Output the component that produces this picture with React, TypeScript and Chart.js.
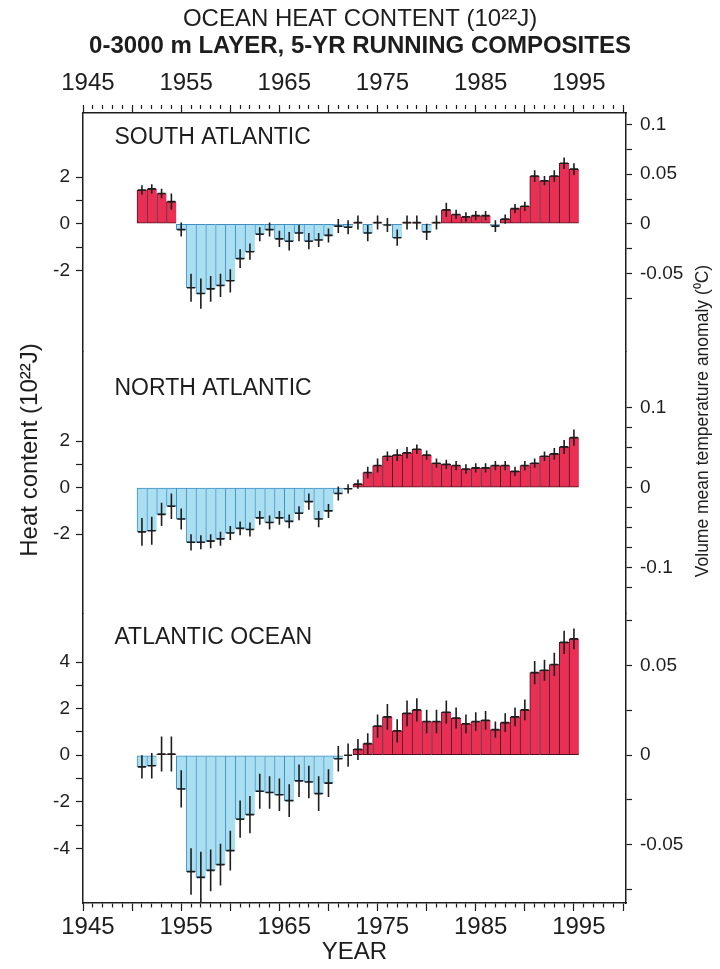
import React, { useEffect, useRef } from "react";
import { Chart, registerables } from "chart.js";

Chart.register(...registerables);

// ---------------- data ----------------
const years = [
  1950, 1951, 1952, 1953, 1954, 1955, 1956, 1957, 1958, 1959,
  1960, 1961, 1962, 1963, 1964, 1965, 1966, 1967, 1968, 1969,
  1970, 1971, 1972, 1973, 1974, 1975, 1976, 1977, 1978, 1979,
  1980, 1981, 1982, 1983, 1984, 1985, 1986, 1987, 1988, 1989,
  1990, 1991, 1992, 1993, 1994,
];

const southAtlantic = [
  1.45, 1.5, 1.3, 0.95, -0.25, -2.75, -3.0, -2.8, -2.65, -2.45,
  -1.5, -1.2, -0.45, -0.25, -0.65, -0.75, -0.4, -0.75, -0.7, -0.5,
  -0.1, -0.15, 0.05, -0.4, 0.05, -0.05, -0.6, 0.05, 0.05, -0.35,
  0.05, 0.6, 0.4, 0.3, 0.35, 0.35, -0.1, 0.2, 0.65, 0.75,
  2.05, 1.85, 2.05, 2.6, 2.35,
];
const southAtlanticErr = [
  0.2, 0.2, 0.2, 0.35, 0.3, 0.6, 0.65, 0.55, 0.5, 0.5,
  0.4, 0.35, 0.3, 0.3, 0.35, 0.4, 0.35, 0.35, 0.3, 0.3,
  0.3, 0.3, 0.3, 0.35, 0.3, 0.3, 0.35, 0.3, 0.3, 0.35,
  0.3, 0.3, 0.2, 0.2, 0.2, 0.2, 0.25, 0.2, 0.2, 0.2,
  0.25, 0.2, 0.25, 0.25, 0.25,
];

const northAtlantic = [
  -1.9, -1.85, -1.15, -0.8, -1.35, -2.35, -2.35, -2.3, -2.2, -1.95,
  -1.75, -1.8, -1.3, -1.5, -1.3, -1.45, -1.1, -0.6, -1.35, -1.0,
  -0.25, -0.05, 0.15, 0.65, 0.95, 1.35, 1.4, 1.5, 1.65, 1.4,
  1.05, 1.0, 0.95, 0.8, 0.85, 0.85, 0.95, 0.95, 0.7, 0.95,
  1.05, 1.35, 1.45, 1.75, 2.15,
];
const northAtlanticErr = [
  0.6, 0.6, 0.5, 0.55, 0.45, 0.35, 0.3, 0.3, 0.3, 0.3,
  0.3, 0.3, 0.3, 0.3, 0.3, 0.3, 0.3, 0.35, 0.35, 0.3,
  0.3, 0.2, 0.2, 0.25, 0.3, 0.2, 0.25, 0.25, 0.2, 0.2,
  0.2, 0.2, 0.2, 0.2, 0.2, 0.2, 0.2, 0.2, 0.2, 0.2,
  0.2, 0.2, 0.25, 0.3, 0.35,
];

const atlanticOcean = [
  -0.5, -0.45, 0.05, 0.05, -1.45, -5.0, -5.25, -4.95, -4.7, -4.1,
  -2.75, -2.55, -1.55, -1.6, -1.7, -1.95, -1.1, -1.15, -1.65, -1.2,
  -0.15, 0.0, 0.25, 0.5, 1.25, 1.65, 1.05, 1.8, 1.95, 1.45,
  1.45, 1.85, 1.6, 1.35, 1.45, 1.5, 1.1, 1.4, 1.65, 1.95,
  3.55, 3.65, 3.9, 4.85, 5.0,
];
const atlanticOceanErr = [
  0.5, 0.55, 0.75, 0.75, 0.8, 1.0, 1.1, 0.9, 0.9, 0.85,
  0.8, 0.8, 0.75, 0.7, 0.7, 0.7, 0.7, 0.7, 0.75, 0.6,
  0.55, 0.5, 0.45, 0.45, 0.5, 0.55, 0.5, 0.55, 0.5, 0.5,
  0.5, 0.5, 0.45, 0.4, 0.4, 0.4, 0.35, 0.4, 0.4, 0.45,
  0.5, 0.45, 0.5, 0.5, 0.45,
];

const panelNames = ["SOUTH ATLANTIC", "NORTH ATLANTIC", "ATLANTIC OCEAN"];

const yearLabels = [1945, 1955, 1965, 1975, 1985, 1995];

const heatTicksSA = [-2, -1, 0, 1, 2];
const heatLabelsSA = [-2, 0, 2];
const heatTicksNA = [-2, -1, 0, 1, 2];
const heatLabelsNA = [-2, 0, 2];
const heatTicksAO = [-4, -3, -2, -1, 0, 1, 2, 3, 4];
const heatLabelsAO = [-4, -2, 0, 2, 4];

const tempTicksSA = [0.1, 0.075, 0.05, 0.025, 0, -0.025, -0.05, -0.075];
const tempLabelsSA = [0.1, 0.05, 0, -0.05];
const tempTicksNA = [0.1, 0.075, 0.05, 0.025, 0, -0.025, -0.05, -0.075, -0.1, -0.125];
const tempLabelsNA = [0.1, 0, -0.1];
const tempTicksAO = [0.075, 0.05, 0.025, 0, -0.025, -0.05, -0.075];
const tempLabelsAO = [0.05, 0, -0.05];

const titleLine1 = "OCEAN HEAT CONTENT (10²²J)";
const titleLine2 = "0-3000 m LAYER, 5-YR RUNNING COMPOSITES";
const xTitle = "YEAR";
const leftTitle = "Heat content (10²²J)";
const rightTitle = "Volume mean temperature anomaly (⁰C)";

// ---------------- layout / style ----------------
const FONT = "'Liberation Sans', Arial, Helvetica, sans-serif";
const INK = "#1d1d1d";
const RED = "#ea2f55";
const RED_EDGE = "#4a1220";
const BLUE = "#a9dff1";
const BLUE_EDGE = "#3f8ec4";
const X_MIN = 1945;
const X_MAX = 1999.3;

// heat-unit extents of each stacked panel and °C per heat unit of the right axis
const panelLayout = [
  { min: -5.5, max: 4.76, kPerUnit: 0.0235, titleLevel: 3.7 },
  { min: -5.4, max: 5.84, kPerUnit: 0.029, titleLevel: 4.25 },
  { min: -6.35, max: 6.1, kPerUnit: 0.013, titleLevel: 5.06 },
];

const sideTitles = {
  left: { x: 30, y: 450, size: 24 },
  right: { x: 703, y: 421, size: 17.5 },
};

const panels = [
  { values: southAtlantic, errors: southAtlanticErr, heatTicks: heatTicksSA, heatLabels: heatLabelsSA, tempTicks: tempTicksSA, tempLabels: tempLabelsSA },
  { values: northAtlantic, errors: northAtlanticErr, heatTicks: heatTicksNA, heatLabels: heatLabelsNA, tempTicks: tempTicksNA, tempLabels: tempLabelsNA },
  { values: atlanticOcean, errors: atlanticOceanErr, heatTicks: heatTicksAO, heatLabels: heatLabelsAO, tempTicks: tempTicksAO, tempLabels: tempLabelsAO },
];

const minorDash = (c: any) => {
  const v = c && c.tick ? c.tick.value : 0;
  return Math.abs(v % 5) > 1e-6 ? [4, 40] : [];
};

function yearAxis(position: "top" | "bottom") {
  return {
    type: "linear",
    axis: "x",
    position,
    min: X_MIN,
    max: X_MAX,
    bounds: "data",
    afterBuildTicks: (s: any) => {
      const t: any[] = [];
      for (let v = yearLabels[0]; v <= yearLabels[yearLabels.length - 1] + 4; v++) t.push({ value: v });
      s.ticks = t;
    },
    afterFit: (s: any) => {
      s.height = position === "top" ? 54 : 66;
    },
    ticks: {
      autoSkip: false,
      maxRotation: 0,
      minRotation: 0,
      padding: position === "top" ? 7 : 2,
      color: INK,
      font: { family: FONT, size: 24 },
      callback: (v: any) => (yearLabels.includes(v) ? String(v) : ""),
    },
    grid: {
      drawOnChartArea: false,
      tickLength: 8,
      tickWidth: 1.2,
      tickColor: INK,
      tickBorderDash: minorDash,
    },
    border: { color: INK, width: 1.5 },
    title:
      position === "bottom"
        ? { display: true, text: xTitle, color: INK, font: { family: FONT, size: 24 }, padding: { top: 0, bottom: 2 } }
        : { display: false },
  };
}

function heatAxis(i: number) {
  const p = panels[i];
  const L = panelLayout[i];
  return {
    type: "linear",
    axis: "y",
    position: "left",
    stack: "heat",
    stackWeight: L.max - L.min,
    weight: 10 - i,
    min: L.min,
    max: L.max,
    bounds: "data",
    afterBuildTicks: (s: any) => {
      s.ticks = p.heatTicks.map((v) => ({ value: v }));
    },
    afterFit: (s: any) => {
      s.width = 83;
    },
    ticks: {
      autoSkip: false,
      padding: 6,
      color: INK,
      font: { family: FONT, size: 19 },
      callback: (v: any) => (p.heatLabels.includes(v) ? String(v) : ""),
    },
    grid: { drawOnChartArea: false, tickLength: 7, tickWidth: 1.2, tickColor: INK },
    border: { color: INK, width: 1.5 },
  };
}

function tempAxis(i: number) {
  const p = panels[i];
  const L = panelLayout[i];
  return {
    type: "linear",
    axis: "y",
    position: "right",
    stack: "temp",
    stackWeight: L.max - L.min,
    weight: i + 1,
    min: L.min * L.kPerUnit,
    max: L.max * L.kPerUnit,
    bounds: "data",
    afterBuildTicks: (s: any) => {
      s.ticks = p.tempTicks.map((v) => ({ value: v }));
    },
    afterFit: (s: any) => {
      s.width = 94;
    },
    ticks: {
      autoSkip: false,
      padding: 8,
      color: INK,
      font: { family: FONT, size: 19 },
      callback: (v: any) => (p.tempLabels.includes(v) ? String(v) : ""),
    },
    grid: { drawOnChartArea: false, tickLength: 6, tickWidth: 1.2, tickColor: INK },
    border: { color: INK, width: 1.5 },
  };
}

function rotatedText(ctx: any, text: string, x: number, y: number, size: number) {
  ctx.save();
  ctx.translate(x, y);
  ctx.rotate(-Math.PI / 2);
  ctx.font = `${size}px ${FONT}`;
  ctx.fillStyle = INK;
  ctx.textAlign = "center";
  ctx.textBaseline = "middle";
  ctx.fillText(text, 0, 0);
  ctx.restore();
}

const overlayPlugin = {
  id: "overlay",
  afterDatasetsDraw(chart: any) {
    const ctx = chart.ctx;
    const xs = chart.scales.x;
    ctx.save();
    chart.data.datasets.forEach((ds: any, di: number) => {
      const meta = chart.getDatasetMeta(di);
      const ys = chart.scales[ds.yAxisID];
      ctx.strokeStyle = INK;
      ctx.lineWidth = 1.6;
      meta.data.forEach((bar: any, i: number) => {
        const v = ds.data[i].y;
        const e = ds.errors[i];
        const x = bar.x;
        ctx.beginPath();
        ctx.moveTo(x, ys.getPixelForValue(v - e));
        ctx.lineTo(x, ys.getPixelForValue(v + e));
        const yv = ys.getPixelForValue(v);
        ctx.moveTo(x - 4, yv);
        ctx.lineTo(x + 4, yv);
        ctx.stroke();
      });
      ctx.fillStyle = INK;
      ctx.font = `23px ${FONT}`;
      ctx.textAlign = "left";
      ctx.textBaseline = "middle";
      ctx.fillText(panelNames[di], xs.getPixelForValue(1947.7), ys.getPixelForValue(panelLayout[di].titleLevel));
    });
    ctx.restore();
    rotatedText(ctx, leftTitle, sideTitles.left.x, sideTitles.left.y, sideTitles.left.size);
    rotatedText(ctx, rightTitle, sideTitles.right.x, sideTitles.right.y, sideTitles.right.size);
  },
};

export default function App() {
  const ref = useRef<HTMLCanvasElement | null>(null);
  useEffect(() => {
    if (!ref.current) return;
    const datasets = panels.map((p, i) => ({
      type: "bar",
      label: panelNames[i],
      data: years.map((yr, j) => ({ x: yr + 0.5, y: p.values[j] })),
      errors: p.errors,
      xAxisID: "x",
      yAxisID: "yHeat" + (i + 1),
      grouped: false,
      barPercentage: 1,
      categoryPercentage: 1,
      backgroundColor: (c: any) => (c.parsed && c.parsed.y < 0 ? BLUE : RED),
      borderColor: (c: any) => (c.parsed && c.parsed.y < 0 ? BLUE_EDGE : RED_EDGE),
      borderWidth: { left: 1, right: 0, top: 1, bottom: 1 },
      borderSkipped: false,
    }));
    const chart = new Chart(ref.current, {
      type: "bar",
      data: { datasets } as any,
      options: {
        animation: false,
        responsive: false,
        devicePixelRatio: 1,
        layout: { padding: 0 },
        plugins: {
          legend: { display: false },
          tooltip: { enabled: false },
          title: {
            display: true,
            text: titleLine1,
            color: INK,
            font: { family: FONT, size: 24, weight: "normal", lineHeight: "28px" },
            padding: { top: 5, bottom: 0 },
          },
          subtitle: {
            display: true,
            text: titleLine2,
            color: INK,
            font: { family: FONT, size: 24, weight: "bold", lineHeight: "26px" },
            padding: { top: 0, bottom: 0 },
          },
        },
        scales: {
          x: yearAxis("bottom"),
          x2: yearAxis("top"),
          yHeat1: heatAxis(0),
          yHeat2: heatAxis(1),
          yHeat3: heatAxis(2),
          yTemp1: tempAxis(0),
          yTemp2: tempAxis(1),
          yTemp3: tempAxis(2),
        } as any,
      } as any,
      plugins: [overlayPlugin],
    });
    return () => chart.destroy();
  }, []);
  return (
    <div style={{ position: "absolute", left: 0, top: 0, width: 720, height: 969, background: "#fff" }}>
      <canvas ref={ref} width={720} height={969} style={{ display: "block", width: 720, height: 969 }} />
    </div>
  );
}
